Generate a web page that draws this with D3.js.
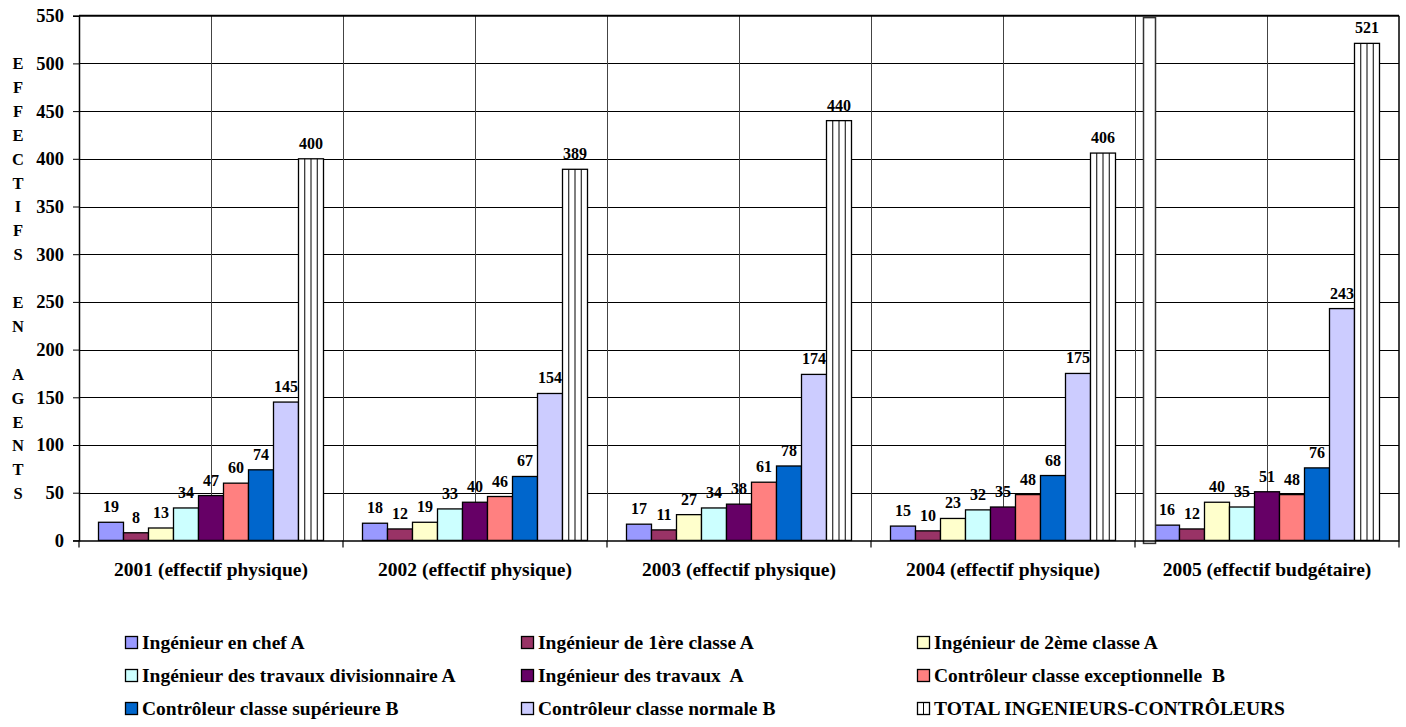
<!DOCTYPE html>
<html>
<head>
<meta charset="utf-8">
<script src="https://cdn.jsdelivr.net/npm/d3@7"></script>
<style>
  body { margin: 0; background: #fff; }
  text { font-family: "Liberation Serif", "Times New Roman", serif; font-weight: bold; fill: #000; white-space: pre; }
</style>
</head>
<body>
<svg id="chart" width="1406" height="727"></svg>
<script>
// categories (years)
var years = ["2001 (effectif physique)", "2002 (effectif physique)", "2003 (effectif physique)",
             "2004 (effectif physique)", "2005 (effectif budgétaire)"];

// one array per grade, values per year
var ingChef      = [19, 18, 17, 15, 16];
var ing1ere      = [8, 12, 11, 10, 12];
var ing2eme      = [13, 19, 27, 23, 40];
var ingTravDiv   = [34, 33, 34, 32, 35];
var ingTrav      = [47, 40, 38, 35, 51];
var ctrlExcep    = [60, 46, 61, 48, 48];
var ctrlSup      = [74, 67, 78, 68, 76];
var ctrlNormale  = [145, 154, 174, 175, 243];
var totalIngCtrl = [400, 389, 440, 406, 521];

var seriesNames = ["Ingénieur en chef A", "Ingénieur de 1ère classe A", "Ingénieur de 2ème classe A",
                   "Ingénieur des travaux divisionnaire A", "Ingénieur des travaux  A", "Contrôleur classe exceptionnelle  B",
                   "Contrôleur classe supérieure B", "Contrôleur classe normale B", "TOTAL INGENIEURS-CONTRÔLEURS"];
var seriesColors = ["#9999ff", "#993366", "#ffffcc", "#ccffff", "#660066", "#ff8080", "#0066cc", "#ccccff", "#ffffff"];

var yTicks = [0, 50, 100, 150, 200, 250, 300, 350, 400, 450, 500, 550];
var yTitle = "EFFECTIFS EN AGENTS";

(function() {
  var allSeries = [ingChef, ing1ere, ing2eme, ingTravDiv, ingTrav, ctrlExcep, ctrlSup, ctrlNormale, totalIngCtrl];

  var svg = d3.select("#chart");
  var plotL = 79, plotR = 1399, plotT = 15.7, plotB = 540.4;

  var x0 = d3.scaleBand().domain(years).range([plotL, plotR]).padding(0);
  var x1 = d3.scaleBand().domain(d3.range(9)).range([0, x0.bandwidth()]).paddingInner(0).paddingOuter(0.78);
  var y = d3.scaleLinear().domain([0, 550]).range([plotB, plotT]);

  // horizontal gridlines
  svg.append("g").selectAll("line").data(yTicks.filter(function(d) { return d > 0 && d < 550; }))
    .enter().append("line")
    .attr("x1", plotL).attr("x2", plotR)
    .attr("y1", function(d) { return Math.round(y(d)) + 0.5; })
    .attr("y2", function(d) { return Math.round(y(d)) + 0.5; })
    .attr("stroke", "#000").attr("stroke-width", 1);

  // vertical gridlines (category boundaries and middles)
  var vLines = [];
  years.forEach(function(c, i) {
    if (i > 0) vLines.push(x0(c));
    vLines.push(x0(c) + x0.bandwidth() / 2);
  });
  svg.append("g").selectAll("line").data(vLines).enter().append("line")
    .attr("x1", function(d) { return Math.round(d) + 0.5; })
    .attr("x2", function(d) { return Math.round(d) + 0.5; })
    .attr("y1", plotT).attr("y2", plotB)
    .attr("stroke", "#444").attr("stroke-width", 1);

  // bars
  var groups = svg.append("g").selectAll("g").data(years).enter().append("g")
    .attr("transform", function(d) { return "translate(" + x0(d) + ",0)"; });

  groups.each(function(year, yi) {
    var g = d3.select(this);
    allSeries.forEach(function(vals, si) {
      var bx = x1(si), bw = x1.bandwidth(), v = vals[yi];
      g.append("rect")
        .attr("x", bx).attr("y", y(v))
        .attr("width", bw).attr("height", y(0) - y(v))
        .attr("fill", seriesColors[si])
        .attr("stroke", "#000").attr("stroke-width", 1.3);
      if (si === 8) {
        // vertical stripes of the total bar
        [1, 2, 3].forEach(function(k) {
          g.append("line")
            .attr("x1", bx + bw * k / 4).attr("x2", bx + bw * k / 4)
            .attr("y1", y(v)).attr("y2", y(0))
            .attr("stroke", "#000").attr("stroke-width", 1);
        });
      }
      g.append("text")
        .attr("x", bx + bw / 2).attr("y", y(v) - 10)
        .attr("text-anchor", "middle")
        .style("font-size", "16px")
        .text(v);
    });
  });

  // stray white box over the 2005 group
  svg.append("rect")
    .attr("x", x0(years[4]) + 8.5).attr("y", y(548))
    .attr("width", 12).attr("height", y(0) - y(548) + 3)
    .attr("fill", "#fff").attr("stroke", "#333").attr("stroke-width", 1.5);

  // frame
  svg.append("line").attr("x1", plotL).attr("x2", plotR).attr("y1", plotT).attr("y2", plotT)
    .attr("stroke", "#000").attr("stroke-width", 2);
  svg.append("line").attr("x1", plotR).attr("x2", plotR).attr("y1", plotT).attr("y2", plotB)
    .attr("stroke", "#000").attr("stroke-width", 1.5);

  // y axis
  var yAxis = svg.append("g").attr("transform", "translate(" + plotL + ",0)")
    .call(d3.axisLeft(y).tickValues(yTicks).tickSize(6).tickPadding(9));
  yAxis.select(".domain").attr("stroke", "#000").attr("stroke-width", 1.5);
  yAxis.selectAll(".tick line").attr("stroke", "#000");
  yAxis.selectAll("text").style("font-size", "18.5px").attr("font-family", null);

  // x axis
  var xAxis = svg.append("g").attr("transform", "translate(0," + plotB + ")")
    .call(d3.axisBottom(x0).tickSize(0).tickPadding(22));
  xAxis.select(".domain").attr("stroke", "#000").attr("stroke-width", 1.5);
  xAxis.selectAll("text").style("font-size", "19.5px").attr("font-family", null);
  svg.append("g").selectAll("line").data(years.concat(["end"])).enter().append("line")
    .attr("x1", function(d, i) { return plotL + i * x0.bandwidth(); })
    .attr("x2", function(d, i) { return plotL + i * x0.bandwidth(); })
    .attr("y1", plotB).attr("y2", plotB + 7)
    .attr("stroke", "#000").attr("stroke-width", 1.2);

  // vertical y title, one letter per line
  var titleChars = yTitle.split("");
  svg.append("g").selectAll("text").data(titleChars).enter().append("text")
    .attr("x", 18).attr("y", function(d, i) { return 69 + i * 23.9; })
    .attr("text-anchor", "middle")
    .style("font-size", "16.5px")
    .text(function(d) { return d; });

  // legend
  var legCols = [125, 521, 917], legRows = [643, 676, 709];
  var leg = svg.append("g").selectAll("g").data(seriesNames).enter().append("g")
    .attr("transform", function(d, i) { return "translate(" + legCols[i % 3] + "," + legRows[Math.floor(i / 3)] + ")"; });
  leg.append("rect")
    .attr("x", 0.5).attr("y", -6.5).attr("width", 12).attr("height", 12)
    .attr("fill", function(d, i) { return seriesColors[i]; })
    .attr("stroke", "#000").attr("stroke-width", 1.3);
  leg.filter(function(d, i) { return i === 8; }).append("line")
    .attr("x1", 6.5).attr("x2", 6.5).attr("y1", -6.5).attr("y2", 5.5)
    .attr("stroke", "#000");
  leg.append("text")
    .attr("x", 17).attr("y", 6)
    .style("font-size", "19.5px")
    .text(function(d) { return d; });
})();
</script>
</body>
</html>
